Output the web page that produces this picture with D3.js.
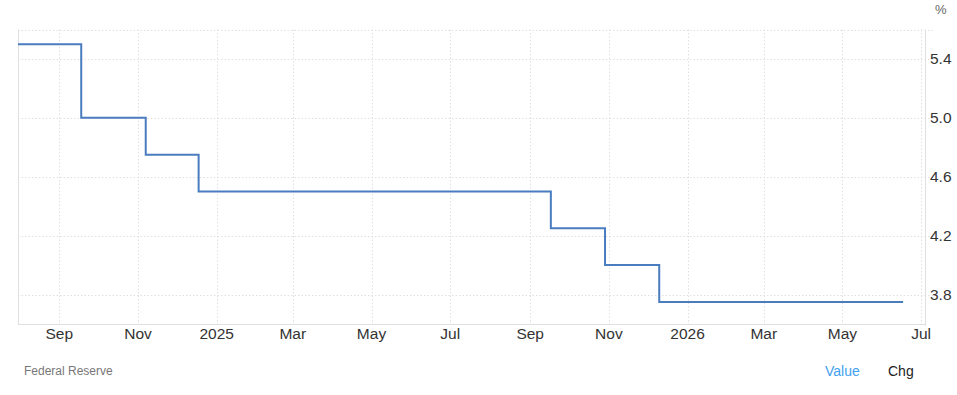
<!DOCTYPE html>
<html>
<head>
<meta charset="utf-8">
<style>
body { margin: 0; background: #fff; }
svg { display: block; font-family: Arial, "Liberation Sans", sans-serif; }
.grid line { stroke: #e0e0e0; stroke-dasharray: 1.5,2; }
.frame { stroke: #e0e0e0; }
.tick-label { fill: #333; font-size: 15.5px; }
</style>
</head>
<body>
<svg id="chart"></svg>
<script src="https://d3js.org/d3.v7.min.js"></script>
<script>

// FOMC meeting dates and the upper target rate after each meeting (%)
var dates = ["2024-07-31", "2024-09-18", "2024-11-07", "2024-12-18",
  "2025-01-29", "2025-03-19", "2025-05-07", "2025-06-18", "2025-07-30",
  "2025-09-17", "2025-10-29", "2025-12-10",
  "2026-01-28", "2026-03-18", "2026-04-29", "2026-06-17"];
var rates = [5.5, 5.0, 4.75, 4.5,
  4.5, 4.5, 4.5, 4.5, 4.5,
  4.25, 4.0, 3.75,
  3.75, 3.75, 3.75, 3.75];
var yTicks = [3.8, 4.2, 4.6, 5.0, 5.4];
var xStart = "2024-07-31", xEnd = "2026-07-04";
var yMin = 3.6, yMax = 5.6;

var width = 957, height = 395
var mLeft = 18, mRight = 925, mTop = 29.5, mBottom = 324

var parse = d3.utcParse("%Y-%m-%d")
var data = dates.map((d, i) => ({date: parse(d), value: rates[i]}))

var x = d3.scaleUtc()
  .domain([parse(xStart), parse(xEnd)])
  .range([mLeft, mRight])

var y = d3.scaleLinear()
  .domain([yMin, yMax])
  .range([mBottom, mTop])

var svg = d3.select("#chart")
  .attr("width", width)
  .attr("height", height)

var xTicks = x.ticks(d3.utcMonth.every(2))
var fmt = d => d.getUTCMonth() === 0 ? d3.utcFormat("%Y")(d) : d3.utcFormat("%b")(d)

// gridlines
var grid = svg.append("g").attr("class", "grid")
grid.selectAll(".hg")
    .data(yTicks.concat([yMax]))
  .enter().append("line")
    .attr("x1", mLeft).attr("x2", mRight + 8)
    .attr("y1", d => Math.round(y(d)) + 0.5)
    .attr("y2", d => Math.round(y(d)) + 0.5)
grid.selectAll(".vg")
    .data(xTicks)
  .enter().append("line")
    .attr("x1", d => Math.round(x(d)) + 0.5)
    .attr("x2", d => Math.round(x(d)) + 0.5)
    .attr("y1", mTop).attr("y2", mBottom)

// frame lines
svg.append("line").attr("class", "frame")
  .attr("x1", mLeft + 0.5).attr("x2", mLeft + 0.5).attr("y1", mTop).attr("y2", mBottom)
svg.append("line").attr("class", "frame")
  .attr("x1", mRight + 0.5).attr("x2", mRight + 0.5).attr("y1", mTop).attr("y2", mBottom + 2)
svg.append("line").attr("class", "frame")
  .attr("x1", mLeft).attr("x2", mRight + 1).attr("y1", mBottom + 0.5).attr("y2", mBottom + 0.5)

// x labels
svg.append("g").selectAll("text")
    .data(xTicks)
  .enter().append("text")
    .attr("class", "tick-label")
    .attr("x", d => x(d))
    .attr("y", mBottom + 15)
    .attr("text-anchor", "middle")
    .text(fmt)

// y labels
svg.append("g").selectAll("text")
    .data(yTicks)
  .enter().append("text")
    .attr("class", "tick-label")
    .attr("x", mRight + 5)
    .attr("y", d => y(d) + 5)
    .text(d => d.toFixed(1))

svg.append("text")
  .attr("x", 935).attr("y", 14)
  .attr("fill", "#666").attr("font-size", 13)
  .text("%")

// the step line
var line = d3.line()
  .x(d => x(d.date))
  .y(d => y(d.value))
  .curve(d3.curveStepAfter)

svg.append("path")
  .datum(data)
  .attr("fill", "none")
  .attr("stroke", "#4a7dbf")
  .attr("stroke-width", 2)
  .attr("d", line)

// footer
svg.append("text")
  .attr("x", 24).attr("y", 375)
  .attr("fill", "#777").attr("font-size", 12)
  .text("Federal Reserve")
svg.append("text")
  .attr("x", 825).attr("y", 376)
  .attr("fill", "#42a0f0").attr("font-size", 14)
  .text("Value")
svg.append("text")
  .attr("x", 888).attr("y", 376)
  .attr("fill", "#222").attr("font-size", 14)
  .text("Chg")

</script>
</body>
</html>
